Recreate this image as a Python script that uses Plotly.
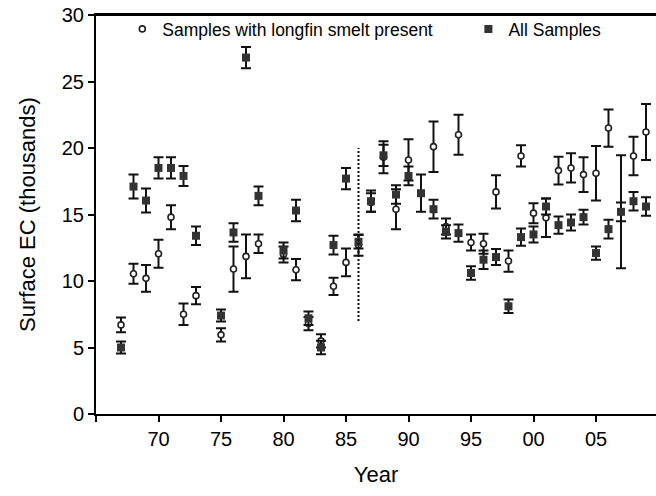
import plotly.graph_objects as go

# Samples with longfin smelt present (year offset from 1900)
smelt_years = [67, 68, 69, 70, 71, 72, 73, 75, 76, 77, 78, 80, 81, 82, 83, 84, 85, 86, 87, 88,
               89, 90, 92, 93, 94, 95, 96, 97, 98, 99, 100, 101, 102, 103, 104, 105, 106, 107, 108, 109]
smelt_ec = [6.7, 10.55, 10.2, 12.05, 14.8, 7.5, 8.9, 5.95, 10.9, 11.85, 12.8, 12.0, 10.85, 6.8, 5.5, 9.6, 11.4, 12.7, 15.9, 19.3,
            15.4, 19.1, 20.1, 14.1, 21.0, 12.9, 12.8, 16.7, 11.5, 19.4, 15.1, 14.75, 18.3, 18.5, 18.0, 18.1, 21.5, 15.2, 19.4, 21.2]
smelt_se = [0.55, 0.75, 1.0, 1.05, 0.9, 0.8, 0.65, 0.5, 1.7, 1.65, 0.7, 0.6, 0.8, 0.5, 0.5, 0.65, 1.05, 0.8, 0.7, 1.2,
            1.5, 1.55, 1.9, 0.6, 1.5, 0.6, 0.75, 1.25, 0.8, 0.8, 0.75, 1.45, 1.05, 1.1, 1.3, 2.05, 1.4, 4.25, 1.45, 2.1]

# All samples
all_years = [67, 68, 69, 70, 71, 72, 73, 75, 76, 77, 78, 80, 81, 82, 83, 84, 85, 86, 87, 88,
             89, 90, 91, 92, 93, 94, 95, 96, 97, 98, 99, 100, 101, 102, 103, 104, 105, 106, 107, 108, 109]
all_ec = [5.0, 17.1, 16.05, 18.5, 18.5, 17.9, 13.4, 7.4, 13.65, 26.8, 16.4, 12.3, 15.3, 7.2, 5.0, 12.7, 17.7, 12.95, 16.0, 19.45,
          16.5, 17.9, 16.6, 15.4, 13.7, 13.6, 10.6, 11.6, 11.8, 8.1, 13.3, 13.5, 15.6, 14.2, 14.4, 14.8, 12.1, 13.9, 15.2, 16.0, 15.6]
all_se = [0.45, 0.9, 0.9, 0.8, 0.8, 0.75, 0.7, 0.45, 0.7, 0.8, 0.7, 0.6, 0.8, 0.5, 0.5, 0.7, 0.8, 0.5, 0.8, 0.8,
          0.7, 0.7, 1.4, 0.7, 0.5, 0.65, 0.5, 0.7, 0.6, 0.5, 0.65, 0.6, 0.6, 0.65, 0.6, 0.55, 0.5, 0.7, 0.7, 0.7, 0.7]

# dotted divider at 1986
divider_x = [86, 86]
divider_y = [7, 20]

tick_vals = [65, 70, 75, 80, 85, 90, 95, 100, 105]
tick_text = ["", "70", "75", "80", "85", "90", "95", "00", "05"]

font_family = "Liberation Sans, Arial, sans-serif"

fig = go.Figure()

fig.add_trace(go.Scatter(
    x=smelt_years, y=smelt_ec, mode="markers",
    name="Samples with longfin smelt present", legend="legend",
    marker=dict(symbol="circle", size=6, color="white", line=dict(color="#222222", width=1.6)),
    error_y=dict(type="data", array=smelt_se, visible=True, color="#111111", thickness=2, width=5),
    cliponaxis=False,
))

fig.add_trace(go.Scatter(
    x=all_years, y=all_ec, mode="markers",
    name="All Samples", legend="legend2",
    marker=dict(symbol="square", size=8, color="#333333"),
    error_y=dict(type="data", array=all_se, visible=True, color="#111111", thickness=2, width=5),
    cliponaxis=False,
))

fig.add_trace(go.Scatter(
    x=divider_x, y=divider_y, mode="lines", showlegend=False,
    line=dict(color="#111111", width=2, dash="2px,2px"),
))

legend_style = dict(orientation="h", y=1.01, xanchor="left", yanchor="top",
                    font=dict(size=17.5), bgcolor="rgba(0,0,0,0)", itemwidth=30)

fig.update_layout(
    width=656, height=496,
    margin=dict(l=96, r=0, t=15, b=82, autoexpand=False),
    plot_bgcolor="white", paper_bgcolor="white",
    font=dict(family=font_family, size=20, color="black"),
    legend=dict(x=0.047, **legend_style),
    legend2=dict(x=0.665, **legend_style),
    xaxis=dict(range=[65, 109.8], tickvals=tick_vals, ticktext=tick_text,
               showline=True, linecolor="black", linewidth=2, mirror=True,
               ticks="outside", ticklen=6, tickwidth=1.5, tickcolor="black",
               showgrid=False, zeroline=False, automargin=False,
               title=dict(text="Year", font=dict(size=22), standoff=18)),
    yaxis=dict(range=[0, 30], tickvals=[0, 5, 10, 15, 20, 25, 30],
               showline=True, linecolor="black", linewidth=2,
               ticks="outside", ticklen=6, tickwidth=1.5, tickcolor="black",
               showgrid=False, zeroline=False, automargin=False,
               title=dict(text="Surface EC (thousands)", font=dict(size=22), standoff=20)),
    shapes=[dict(type="line", xref="paper", yref="paper", x0=0, x1=1, y0=1, y1=1,
                 line=dict(color="black", width=2))],
)

fig.write_html("out.html", config={"displayModeBar": False},
               post_script="document.body.style.margin='0';")
